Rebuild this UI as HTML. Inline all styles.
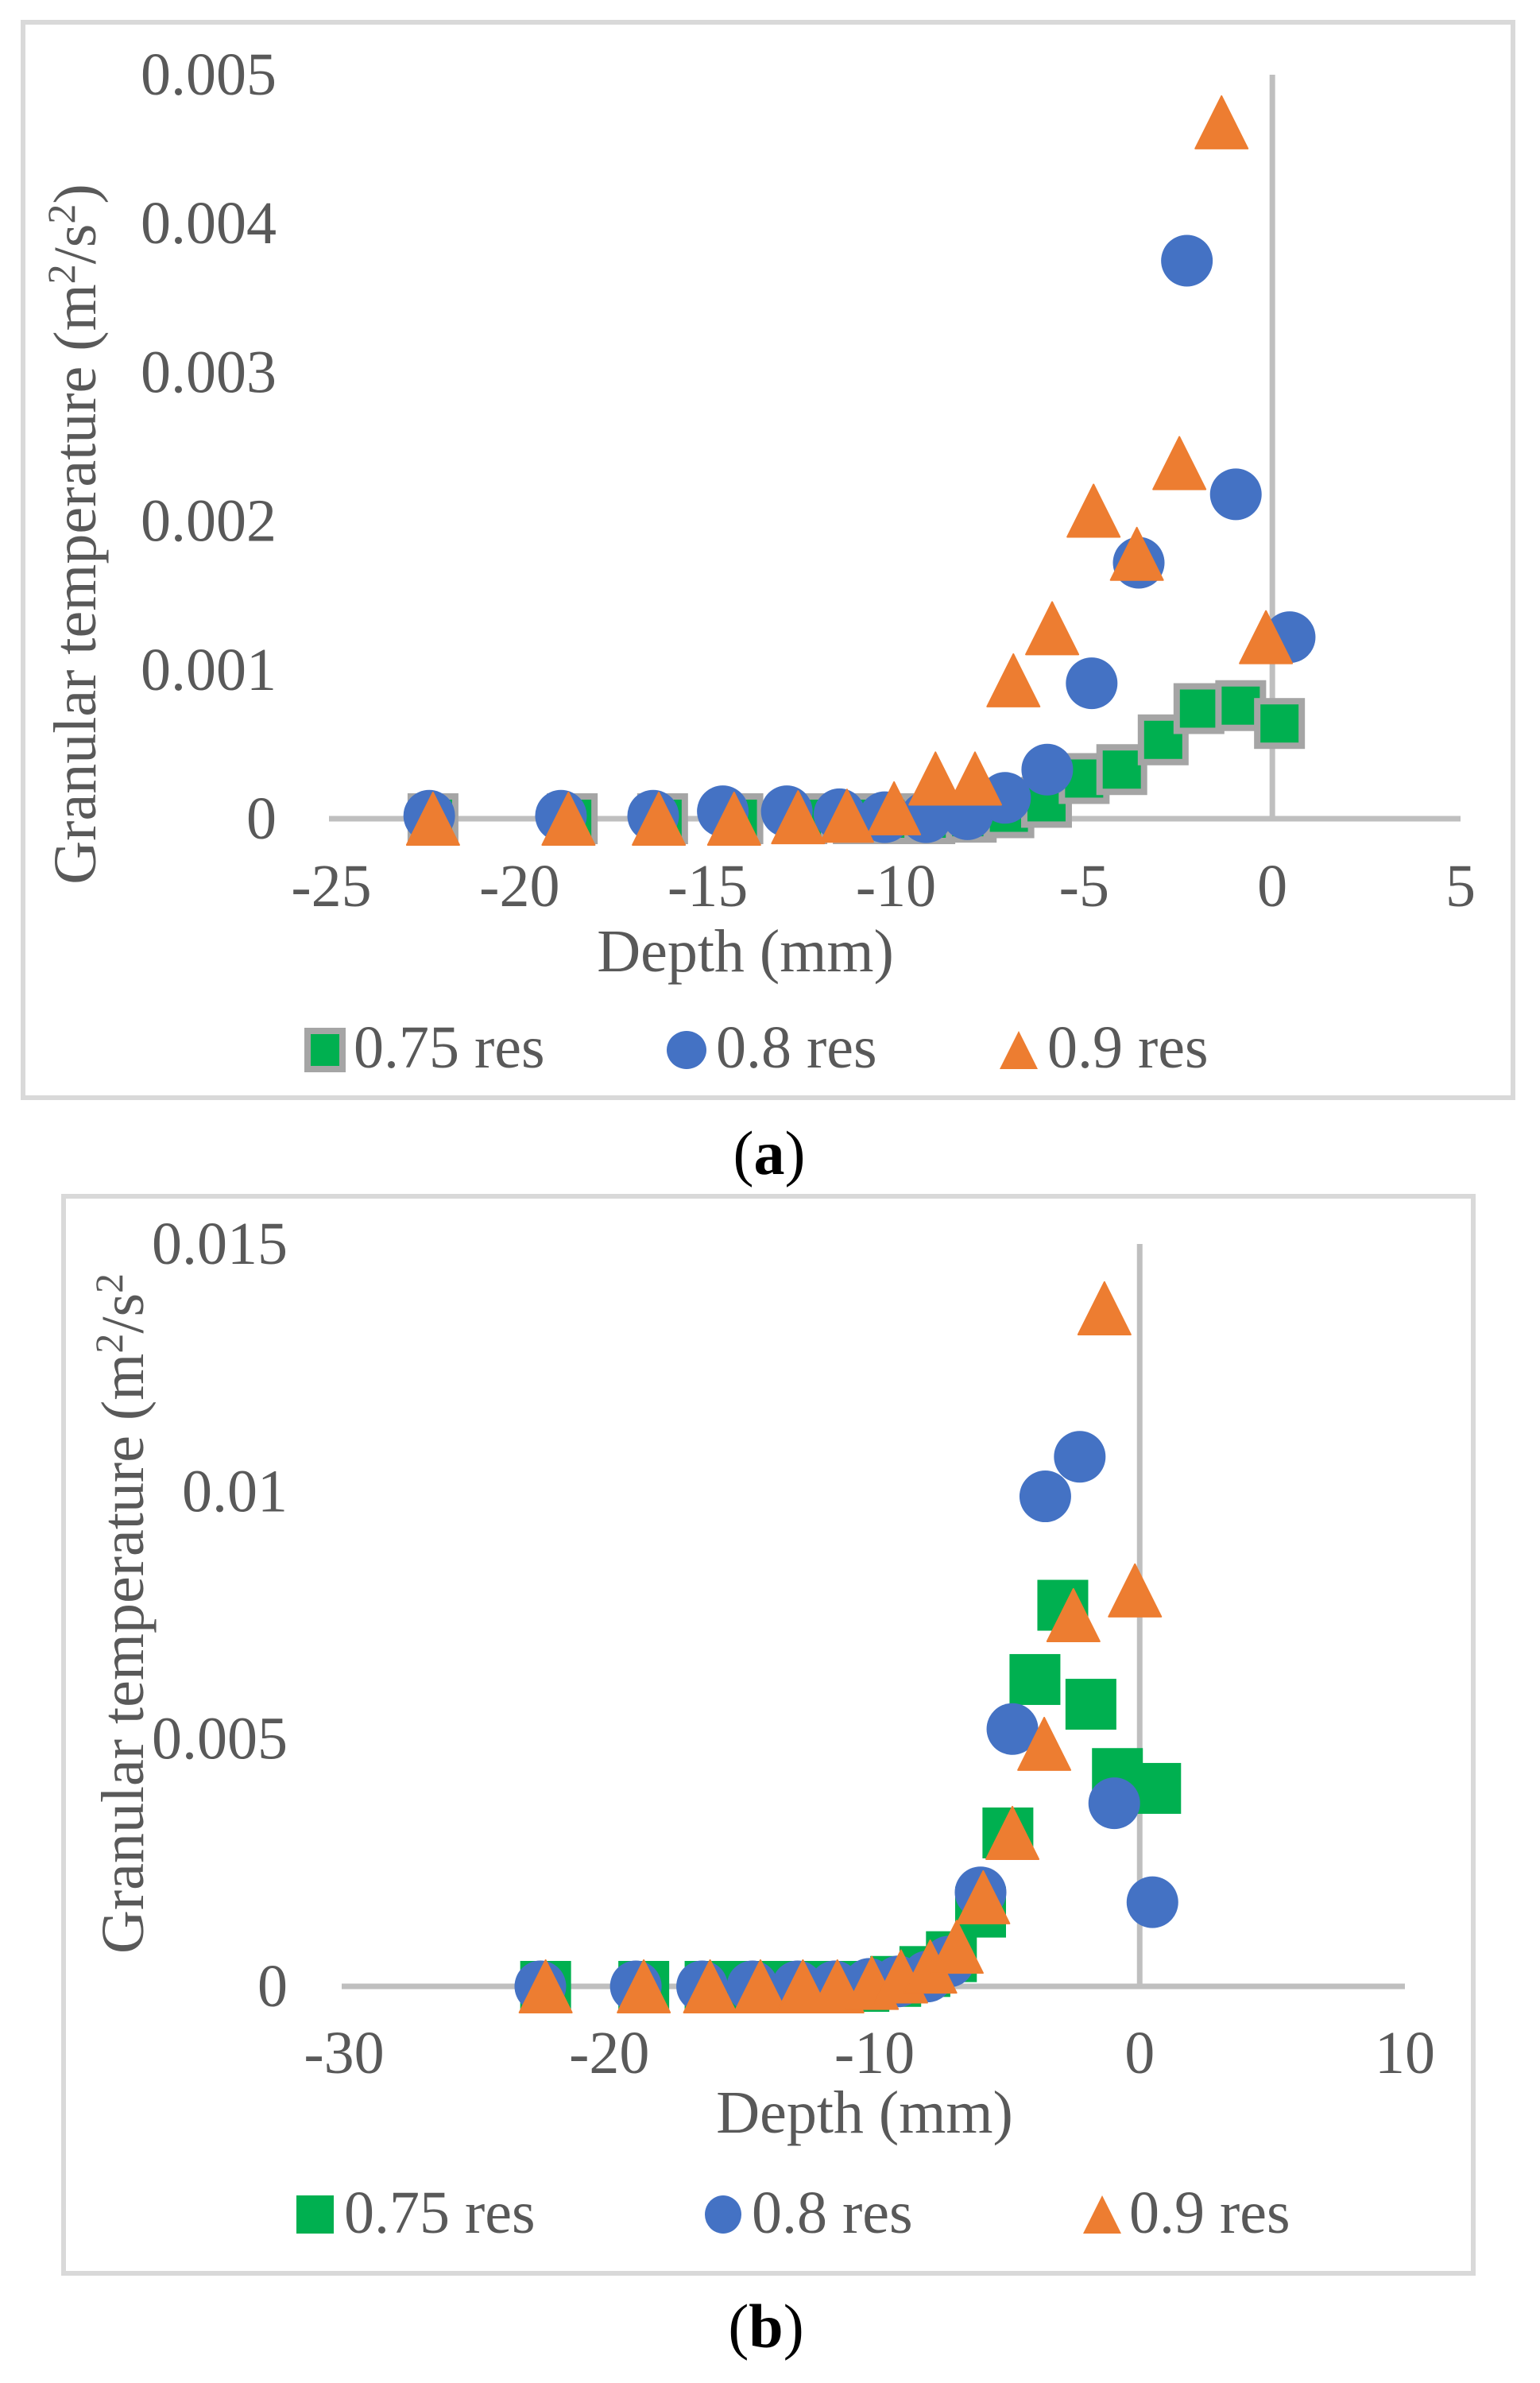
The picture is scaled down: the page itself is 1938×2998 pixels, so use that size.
<!DOCTYPE html>
<html><head><meta charset="utf-8">
<style>
html,body{margin:0;padding:0;background:#fff;}
svg{display:block;}
text{font-family:"Liberation Serif",serif;}
</style></head>
<body>
<svg id="fig" width="1938" height="2998" viewBox="0 0 1938 2998" xmlns="http://www.w3.org/2000/svg">
<g id="chartA"></g>
<g id="chartB"></g>
</svg>
<script>
// ---- Chart (a) data ----
const aXTicks = [-25,-20,-15,-10,-5,0,5];
const aYTicks = [0,0.001,0.002,0.003,0.004,0.005];
const aYTickLabels = ["0","0.001","0.002","0.003","0.004","0.005"];
const aSqX = [-22.3,-18.6,-16.2,-14.2,-12.5,-11.0,-10.0,-9.1,-8.0,-7.0,-6.0,-5.0,-4.0,-2.9,-1.95,-0.84,0.19];
const aSqY = [0,0,0,0,0,0,0,0,0.00001,0.00004,0.00011,0.00027,0.00033,0.00053,0.00074,0.00076,0.00064];
const aCiX = [-22.4,-18.9,-16.45,-14.6,-12.9,-11.5,-10.3,-9.2,-8.1,-7.1,-5.98,-4.8,-3.55,-2.27,-0.97,0.46];
const aCiY = [0.00002,0.00002,0.00002,0.00005,0.00005,0.00003,0.00001,0.00001,0.00003,0.00014,0.00033,0.00091,0.00172,0.00375,0.00218,0.00122];
const aTrX = [-22.3,-18.7,-16.3,-14.3,-12.6,-11.3,-10.05,-8.95,-7.9,-6.88,-5.85,-4.75,-3.6,-2.47,-1.35,-0.17];
const aTrY = [0,0,0,0,0.00001,0.00002,0.00007,0.00027,0.00027,0.00093,0.00128,0.00207,0.00178,0.00239,0.00468,0.00122];

// ---- Chart (b) data ----
const bXTicks = [-30,-20,-10,0,10];
const bYTicks = [0,0.005,0.01,0.015];
const bYTickLabels = ["0","0.005","0.01","0.015"];
const bSqX = [-22.4,-18.7,-16.2,-14.5,-13.0,-11.7,-10.4,-9.2,-8.1,-7.1,-6.0,-4.97,-3.95,-2.9,-1.84,-0.84,0.6];
const bSqY = [0,0,0,0,0,0,0,0.0001,0.0003,0.0006,0.0015,0.0031,0.0062,0.0077,0.0057,0.0043,0.004];
const bCiX = [-22.6,-19.0,-16.5,-14.6,-12.9,-11.5,-10.2,-9.1,-8.0,-7.2,-6.0,-4.8,-3.56,-2.26,-0.96,0.48];
const bCiY = [0,0,0,0,0,0,0.00005,0.0001,0.0002,0.0005,0.0019,0.0052,0.0099,0.0107,0.0037,0.0017];
const bTrX = [-22.4,-18.7,-16.2,-14.3,-12.7,-11.4,-10.1,-9.0,-7.9,-6.9,-5.9,-4.8,-3.6,-2.5,-1.33,-0.18];
const bTrY = [0,0,0,0,0,0,0.00007,0.0002,0.0004,0.0008,0.0018,0.0031,0.0049,0.0075,0.0137,0.008];

const NS = "http://www.w3.org/2000/svg";
const TXT = "#595959";
function mk(parent, tag, attrs){
  const e = document.createElementNS(NS, tag);
  for (const k in attrs) e.setAttribute(k, attrs[k]);
  parent.appendChild(e);
  return e;
}
function tri(cx, cy, w, h){
  return (cx)+","+(cy-h/2)+" "+(cx+w/2)+","+(cy+h/2)+" "+(cx-w/2)+","+(cy+h/2);
}

function drawChart(g, cfg){
  const sx = v => cfg.x0 + (v - cfg.xMin) / (cfg.xMax - cfg.xMin) * (cfg.x1 - cfg.x0);
  const sy = v => cfg.yBase - v / cfg.yMax * (cfg.yBase - cfg.yTop);
  // frame
  const fr = mk(g, "rect", {x:cfg.fx, y:cfg.fy, width:cfg.fw, height:cfg.fh, fill:"#fff", stroke:"#d9d9d9", "stroke-width":6});
  
  
  // axes
  const xa = mk(g, "line", {x1:cfg.x0-3, x2:cfg.x1, y1:sy(0), y2:sy(0), stroke:"#bfbfbf", "stroke-width":7});
  
  
  const ya = mk(g, "line", {x1:sx(0), x2:sx(0), y1:cfg.yTop, y2:sy(0), stroke:"#bfbfbf", "stroke-width":7});
  
  
  // x tick labels
  cfg.xTicks.forEach(v => {
    const t = mk(g, "text", {x:sx(v), y:cfg.xLabY, "text-anchor":"middle", "font-size":76, fill:TXT});
    t.textContent = String(v);
    
    
  });
  cfg.yTicks.forEach((v,i) => {
    const t = mk(g, "text", {x:cfg.yLabX, y:sy(v)+25, "text-anchor":"end", "font-size":76, fill:TXT});
    t.textContent = cfg.yTickLabels[i];
    
    
  });
  // axis titles
  const xt = mk(g, "text", {x:cfg.xTitleX, y:cfg.xTitleY, "text-anchor":"middle", "font-size":76, fill:TXT});
  xt.textContent = "Depth (mm)";
  
  
  const yt = mk(g, "text", {x:0, y:0, "text-anchor":"middle", "font-size":76, fill:TXT,
     transform:"translate("+cfg.yTitleX+","+cfg.yTitleY+") rotate(-90)"});
  yt.innerHTML = 'Granular temperature (m<tspan dy="-26" font-size="50">2</tspan><tspan dy="26">/s</tspan><tspan dy="-26" font-size="50">2</tspan><tspan dy="26">' + cfg.close + '</tspan>';
  
  

  const S = 64;
  // squares
  cfg.sqX.forEach((v,i) => {
    const r = mk(g, "rect", {x:sx(v)-S/2, y:sy(cfg.sqY[i])-S/2, width:S, height:S, fill:"#00b050",
       stroke:cfg.sqStroke ? "#a5a5a5" : "none", "stroke-width":cfg.sqStroke ? 8 : 0});
    if (cfg.sqStroke){ r.setAttribute("x", sx(v)-S/2+4); r.setAttribute("y", sy(cfg.sqY[i])-S/2+4); r.setAttribute("width", S-8); r.setAttribute("height", S-8); }
    
    
  });
  cfg.ciX.forEach((v,i) => {
    const c = mk(g, "ellipse", {cx:sx(v), cy:sy(cfg.ciY[i]), rx:32.5, ry:32.5, fill:"#4472c4"});
    
    
  });
  cfg.trX.forEach((v,i) => {
    const p = mk(g, "polygon", {points:tri(sx(v), sy(cfg.trY[i]), 66, 66), fill:"#ed7d31", stroke:"#ed7d31", "stroke-width":2, "stroke-linejoin":"round"});
    
    
  });

  // legend
  const L = cfg.leg;
  const lg = mk(g, "g", {});
  
  
  const ls = mk(lg, "rect", {x:L.sq[0], y:L.top, width:L.sqW, height:L.h, fill:"#00b050",
     stroke:cfg.sqStroke ? "#a5a5a5" : "none", "stroke-width":cfg.sqStroke ? 8 : 0});
  
  
  const lc = mk(lg, "ellipse", {cx:L.ci[0], cy:L.top+L.h/2, rx:L.ciR, ry:L.h/2, fill:"#4472c4"});
  
  
  const lt = mk(lg, "polygon", {points:tri(L.tr[0], L.top+L.h/2, L.trW, L.h), fill:"#ed7d31"});
  
  
  [["0.75 res", L.sq[1]],["0.8 res", L.ci[1]],["0.9 res", L.tr[1]]].forEach(a => {
    const t = mk(lg, "text", {x:a[1], y:L.base, "font-size":76, fill:TXT});
    t.textContent = a[0];
    
    
  });
  // caption
  const cap = mk(g, "text", {x:cfg.capX, y:cfg.capY, "text-anchor":"middle", "font-size":78, fill:"#000"});
  cap.innerHTML = '(<tspan font-weight="bold">' + cfg.capL + '</tspan>)';
  
  
}

drawChart(document.getElementById("chartA"), {
  fx:29, fy:28, fw:1875, fh:1353,
  xMin:-25, xMax:5, x0:417, x1:1838, yBase:1030, yTop:94, yMax:0.005,
  xTicks:aXTicks, yTicks:aYTicks, yTickLabels:aYTickLabels,
  xLabY:1140, yLabX:348, xTitleX:938, xTitleY:1222, yTitleX:120, yTitleY:672, close:")",
  sqX:aSqX, sqY:aSqY, ciX:aCiX, ciY:aCiY, trX:aTrX, trY:aTrY, sqStroke:true,
  leg:{top:1297, h:48, base:1343, sq:[387,445], sqW:44, ci:[864,901], ciR:25, tr:[1282,1318], trW:48},
  capX:968, capY:1477, capL:"a"
});
drawChart(document.getElementById("chartB"), {
  fx:80, fy:1505, fw:1774, fh:1355,
  xMin:-30, xMax:10, x0:433, x1:1768, yBase:2499, yTop:1565, yMax:0.015,
  xTicks:bXTicks, yTicks:bYTicks, yTickLabels:bYTickLabels,
  xLabY:2608, yLabX:362, xTitleX:1088, xTitleY:2683, yTitleX:180, yTitleY:2030, close:"",
  sqX:bSqX, sqY:bSqY, ciX:bCiX, ciY:bCiY, trX:bTrX, trY:bTrY, sqStroke:false,
  leg:{top:2762, h:48, base:2809, sq:[373,433], sqW:47, ci:[910,946], ciR:23, tr:[1387,1421], trW:48},
  capX:964, capY:2953, capL:"b"
});
</script>
</body></html>
